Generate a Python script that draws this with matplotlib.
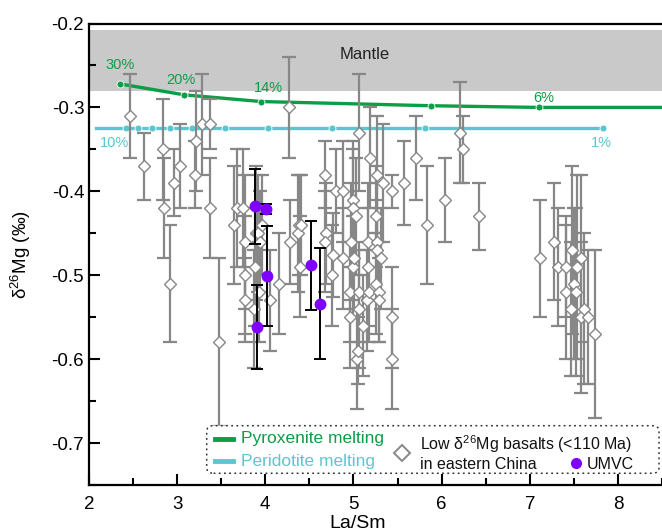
import matplotlib
matplotlib.use("Agg")
import matplotlib.pyplot as plt
from matplotlib.patches import FancyBboxPatch
from matplotlib.lines import Line2D
from matplotlib.ticker import MultipleLocator, FormatStrFormatter

plt.rcParams['font.family'] = ['Liberation Sans', 'DejaVu Sans']
plt.rcParams['axes.unicode_minus'] = False
plt.rcParams['mathtext.fontset'] = 'custom'
plt.rcParams['mathtext.rm'] = 'Liberation Sans'
plt.rcParams['mathtext.it'] = 'Liberation Sans:italic'
plt.rcParams['mathtext.bf'] = 'Liberation Sans:bold'

# ---------------- data ----------------
# Low d26Mg basalts (<110 Ma) in eastern China
basalt_x = [2.47, 2.62, 2.84, 2.85, 2.96, 3.03, 2.92, 3.21, 3.20, 3.28, 3.37, 3.37, 3.48, 4.27,
            3.64, 3.68, 3.75, 3.77, 3.77, 3.77, 3.87, 3.88, 3.90, 3.92, 3.94, 3.96, 3.93, 4.05,
            4.15, 4.28, 4.38, 4.37, 4.39, 4.41,
            4.68, 4.69, 4.68, 4.76, 4.77, 4.80, 4.88, 4.88, 4.96, 4.96, 4.97, 4.99, 5.00, 5.00,
            5.01, 5.03, 5.04, 5.05, 5.06, 5.06, 5.06, 5.11, 5.15, 5.17, 5.17, 5.18, 5.19, 5.25,
            5.26, 5.27, 5.27, 5.27, 5.29, 5.29, 5.31, 5.34, 5.44, 5.44, 5.44, 5.57, 5.71, 5.83,
            6.04, 6.21, 6.24, 6.42,
            7.12, 7.28, 7.32, 7.41, 7.41, 7.465, 7.48, 7.50, 7.53, 7.54, 7.58, 7.58, 7.62, 7.66, 7.74]
basalt_y = [-0.31, -0.37, -0.35, -0.42, -0.39, -0.37, -0.51, -0.34, -0.38, -0.32, -0.32, -0.42, -0.58, -0.30,
            -0.44, -0.42, -0.42, -0.46, -0.50, -0.53, -0.54, -0.49, -0.45, -0.45, -0.46, -0.44, -0.52, -0.53,
            -0.51, -0.46, -0.44, -0.45, -0.49, -0.44,
            -0.38, -0.45, -0.46, -0.50, -0.476, -0.40, -0.40, -0.48, -0.52, -0.55, -0.46, -0.49, -0.41, -0.42,
            -0.48, -0.43, -0.60, -0.59, -0.33, -0.52, -0.54, -0.56, -0.53, -0.46, -0.49, -0.52, -0.36, -0.51,
            -0.43, -0.38, -0.46, -0.47, -0.52, -0.53, -0.48, -0.39, -0.40, -0.55, -0.60, -0.39, -0.36, -0.44,
            -0.41, -0.33, -0.35, -0.43,
            -0.48, -0.46, -0.49, -0.49, -0.52, -0.54, -0.47, -0.51, -0.52, -0.49, -0.48, -0.55, -0.54, -0.55, -0.57]
basalt_err = [0.05, 0.04, 0.06, 0.06, 0.04, 0.05, 0.07, 0.06, 0.04, 0.06, 0.03, 0.06, 0.10, 0.06,
              0.07, 0.07, 0.07, 0.08, 0.07, 0.05, 0.07, 0.07, 0.08, 0.07, 0.06, 0.06, 0.06, 0.06,
              0.06, 0.05, 0.06, 0.07, 0.06, 0.06,
              0.04, 0.06, 0.06, 0.06, 0.05, 0.05, 0.06, 0.06, 0.06, 0.06, 0.07, 0.06, 0.07, 0.07,
              0.06, 0.07, 0.06, 0.04, 0.07, 0.06, 0.07, 0.06, 0.06, 0.07, 0.07, 0.06, 0.06, 0.06,
              0.06, 0.07, 0.07, 0.06, 0.06, 0.05, 0.06, 0.07, 0.02, 0.06, 0.06, 0.05, 0.05, 0.07,
              0.05, 0.06, 0.04, 0.04,
              0.07, 0.07, 0.07, 0.06, 0.08, 0.08, 0.10, 0.09, 0.10, 0.11, 0.10, 0.09, 0.09, 0.08, 0.10]

# UMVC samples
umvc_x = [3.88, 4.01, 4.015, 3.91, 4.52, 4.62]
umvc_y = [-0.418, -0.421, -0.501, -0.562, -0.488, -0.534]
umvc_err = [0.045, 0.006, 0.06, 0.05, 0.053, 0.066]

# Pyroxenite melting curve
pyx_x = [2.35, 3.08, 3.95, 5.88, 7.10, 8.5]
pyx_y = [-0.272, -0.285, -0.293, -0.298, -0.300, -0.300]
pyx_labels = ['30%', '20%', '14%', '6%']
pyx_label_x = [2.35, 3.04, 4.04, 7.16]
pyx_label_y = [-0.2494, -0.267, -0.277, -0.2883]

# Peridotite melting line
per_x = [2.08, 2.42, 2.56, 2.71, 2.92, 3.17, 3.54, 4.03, 4.76, 5.81, 7.83]
per_y = [-0.3244] * len(per_x)
per_labels = ['10%', '1%']
per_label_x = [2.29, 7.81]
per_label_y = [-0.342, -0.342]

# Mantle range
mantle_lo, mantle_hi = -0.281, -0.208

GRAY = '#878787'
GREEN = '#0a9e46'
CYAN = '#5cc6d0'
PURPLE = '#7f00ff'

fig = plt.figure(figsize=(6.62, 5.30), dpi=100)
ax = fig.add_axes([89 / 662, 45 / 530, 573 / 662, 461.5 / 530])
ax.set_xlim(2, 8.5)
ax.set_ylim(-0.75, -0.2)

ax.axhspan(mantle_lo, mantle_hi, color='#c9c9c9', lw=0, zorder=0)
ax.text(4.846, -0.2367, 'Mantle', fontsize=12, va='center', ha='left', color='#222222', zorder=1)

ax.plot(pyx_x, pyx_y, color=GREEN, lw=2.4, zorder=2)
ax.plot(pyx_x[:-1], pyx_y[:-1], ls='none', marker='o', ms=5, mfc=GREEN, mec='white', mew=0.6, zorder=3)
for t, lx, ly in zip(pyx_labels, pyx_label_x, pyx_label_y):
    ax.text(lx, ly, t, color=GREEN, fontsize=10.5, ha='center', va='center', zorder=3)

ax.plot(per_x, per_y, color=CYAN, lw=2.4, zorder=2)
ax.plot(per_x[1:], per_y[1:], ls='none', marker='o', ms=5, mfc=CYAN, mec='white', mew=0.6, zorder=3)
for t, lx, ly in zip(per_labels, per_label_x, per_label_y):
    ax.text(lx, ly, t, color=CYAN, fontsize=10.5, ha='center', va='center', zorder=3)

ax.errorbar(basalt_x, basalt_y, yerr=basalt_err, fmt='D', ms=6.5, mfc='white', mec=GRAY,
            ecolor=GRAY, elinewidth=1.6, capsize=5, capthick=1.6, zorder=4)
ax.errorbar(umvc_x, umvc_y, yerr=umvc_err, fmt='o', ms=7.5, mfc=PURPLE, mec=PURPLE,
            ecolor='black', elinewidth=1.4, capsize=4.5, capthick=1.4, zorder=5)

# axes styling
ax.xaxis.set_major_locator(MultipleLocator(1))
ax.xaxis.set_minor_locator(MultipleLocator(0.5))
ax.yaxis.set_major_locator(MultipleLocator(0.1))
ax.yaxis.set_minor_locator(MultipleLocator(0.05))
ax.yaxis.set_major_formatter(FormatStrFormatter('%.1f'))
ax.tick_params(which='both', direction='in', width=1.5, labelsize=13.5, top=False, right=False)
ax.tick_params(which='major', length=8)
ax.tick_params(which='minor', length=5)
ax.tick_params(axis='x', pad=8)
for s in ['left', 'bottom', 'top']:
    ax.spines[s].set_linewidth(1.6)
ax.spines['right'].set_visible(False)

ax.set_xlabel('La/Sm', fontsize=14)
ax.xaxis.set_label_coords(0.468, -0.064)
ax.set_ylabel('δ$^{26}$Mg (‰)', fontsize=13.5)
ax.yaxis.set_label_coords(-0.098, 0.5)

# legend drawn manually
tr = ax.transAxes
box = FancyBboxPatch((0.2054, 0.0254), 0.9948 - 0.2054, 0.1285 - 0.0254,
                     boxstyle='round,pad=0,rounding_size=0.012', transform=tr,
                     fc='white', ec='#333333', lw=1.1, ls=(0, (1.2, 2.2)), zorder=6)
ax.add_patch(box)
ax.add_line(Line2D([0.220, 0.252], [0.0997, 0.0997], transform=tr, color=GREEN, lw=3.5, zorder=7))
ax.text(0.265, 0.0997, 'Pyroxenite melting', transform=tr, color=GREEN, fontsize=12.5,
        va='center', ha='left', zorder=7)
ax.add_line(Line2D([0.220, 0.252], [0.052, 0.052], transform=tr, color=CYAN, lw=3.5, zorder=7))
ax.text(0.265, 0.052, 'Peridotite melting', transform=tr, color=CYAN, fontsize=12.5,
        va='center', ha='left', zorder=7)
ax.add_line(Line2D([0.5456], [0.070], transform=tr, ls='none', marker='D', ms=8, mfc='white',
                   mec=GRAY, mew=1.4, zorder=7))
ax.text(0.5777, 0.0935, 'Low δ$^{26}$Mg basalts (<110 Ma)', transform=tr, color='#111111',
        fontsize=11.5, va='center_baseline', ha='left', zorder=7)
ax.text(0.5777, 0.0455, 'in eastern China', transform=tr, color='#111111', fontsize=11.5,
        va='center', ha='left', zorder=7)
ax.add_line(Line2D([0.850], [0.0470], transform=tr, ls='none', marker='o', ms=8, mfc=PURPLE,
                   mec=PURPLE, mew=0, zorder=7))
ax.text(0.8686, 0.0455, 'UMVC', transform=tr, color='#111111', fontsize=11.5,
        va='center', ha='left', zorder=7)

fig.savefig('out.png', dpi=100)
